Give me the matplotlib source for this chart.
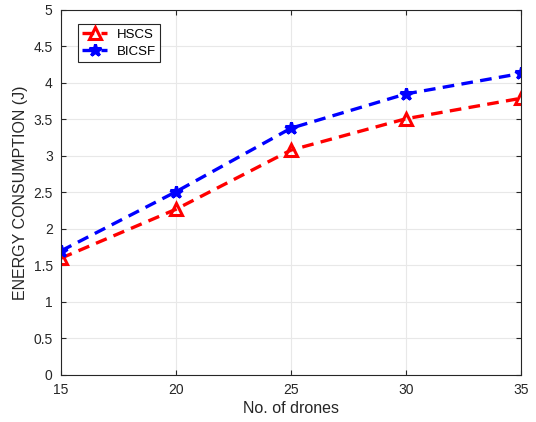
import numpy as np
import matplotlib.pyplot as plt

plt.rcParams['font.family'] = ['Liberation Sans', 'DejaVu Sans']

# du lieu doc tu hinh
drones = [15, 20, 25, 30, 35]
hscs = [1.60, 2.27, 3.08, 3.51, 3.79]
bicsf = [1.70, 2.51, 3.38, 3.85, 4.13]

fig = plt.figure(figsize=(5.36, 4.22), dpi=100)
ax = fig.add_axes([0.1138, 0.1114, 0.858, 0.865])

ax.plot(drones, hscs, color='red', linewidth=2.4, linestyle=(0, (3.5, 2.2)),
        marker='^', markersize=8, markerfacecolor='none', markeredgewidth=2.2,
        label='HSCS')
ax.plot(drones, bicsf, color='blue', linewidth=2.4, linestyle=(0, (3.5, 2.2)),
        marker='*', markersize=9, markeredgewidth=2.2, label='BICSF')

ax.set_xlim(15, 35)
ax.set_ylim(0, 5)
ax.set_xticks([15, 20, 25, 30, 35])
ax.set_yticks(np.arange(0, 5.01, 0.5))
ax.set_yticklabels(['0', '0.5', '1', '1.5', '2', '2.5', '3', '3.5', '4', '4.5', '5'])
ax.grid(True, color='#e8e8e8', linewidth=0.8)
ax.tick_params(direction='in', top=True, right=True, labelsize=10,
               colors='#262626', pad=6)
for s in ax.spines.values():
    s.set_color('#262626')

ax.set_xlabel('No. of drones', fontsize=11.5, color='#262626', labelpad=3)
ax.set_ylabel('ENERGY CONSUMPTION (J)', fontsize=11.5, color='#262626')

leg = ax.legend(loc='upper left', fontsize=9.5, fancybox=False, framealpha=1,
                edgecolor='#262626', handlelength=1.9, borderpad=0.35,
                labelspacing=0.35, handletextpad=0.7,
                bbox_to_anchor=(0.022, 0.98))
leg.get_frame().set_linewidth(0.8)

fig.savefig('out.png', dpi=100)
